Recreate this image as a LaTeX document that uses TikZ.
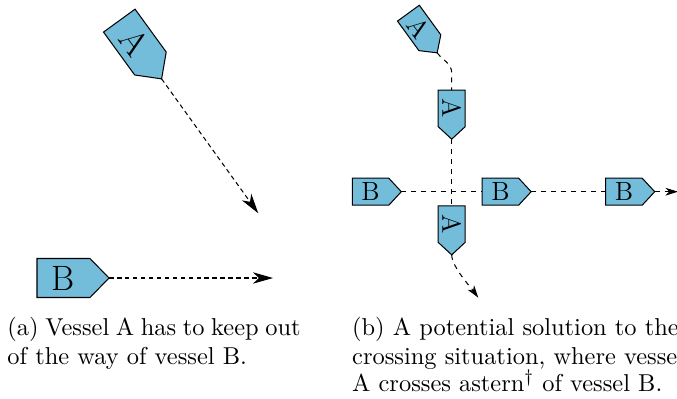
\documentclass[tikz,border=0pt]{standalone}
\usetikzlibrary{arrows.meta}
\definecolor{shipblue}{RGB}{115,189,219}
\tikzset{
  hull/.style={draw=black, fill=shipblue, line width=0.45pt, line join=miter},
  coursea/.style={draw=black, line width=0.45pt, dash pattern=on 2pt off 1.5pt},
  courseb/.style={draw=black, line width=0.45pt, dash pattern=on 2.2pt off 2.2pt},
  tipa/.style={-{Stealth[length=8.8pt,width=5pt,inset=2.6pt]}},
  tipb/.style={-{Stealth[length=5.5pt,width=3.4pt,inset=1.6pt]}},
  captext/.style={anchor=base west, inner sep=0pt, font=\fontsize{10.75}{12.3}\selectfont},
  pics/ship/.style args={#1/#2/#3/#4/#5}{code={
    \draw[hull] (-#2/2,-#3/2) -- (#2/2-#4,-#3/2) -- (#2/2,0) -- (#2/2-#4,#3/2) -- (-#2/2,#3/2) -- cycle;
    \node[inner sep=0pt, font=\fontsize{#5}{#5}\selectfont] (-label) at (-#4/2,0) {#1};
    \coordinate (-bow) at (#2/2,0);
    \coordinate (-stern) at (-#2/2,0);
  }}
}
\begin{document}
\begin{tikzpicture}[x=0.44pt,y=0.44pt]
\useasboundingbox (0,0) rectangle (677,398);
\clip (0,0) rectangle (677,398);
% ---------- (a) ----------
\pic[rotate=-54, transform shape] (Aa) at (140.45,348.25) {ship={A/72/39/19/15.5}};
\pic[transform shape] (Ba) at (73,120) {ship={B/72/39/19/15.5}};
\coordinate (AaEnd) at (258.3,184.7);
\coordinate (BaEnd) at (273,120);
\draw[coursea,tipa] (Aa-bow) -- (AaEnd);
\draw[coursea,tipa] (Ba-bow) -- (BaEnd);
\node[captext] (capa1) at (7,62.5) {\makebox[129pt][s]{(a) Vessel A has to keep out}};
\node[captext] (capa2) at (7,34) {of the way of vessel B.};
% ---------- (b) ----------
\pic[rotate=-54, transform shape] (A0) at (422.8,365) {ship={A/49/27/12.5/11.6}};
\pic[rotate=-90, transform shape] (A1) at (451.7,283.35) {ship={A/49/27/12.5/11.6}};
\pic[rotate=-90, transform shape] (A2) at (451.7,167.65) {ship={A/49/27/12.5/11.6}};
\pic[transform shape] (B1) at (376.8,206.3) {ship={B/49/27/12.5/11.6}};
\pic[transform shape] (B2) at (506.65,206.3) {ship={B/49/27/12.5/11.6}};
\pic[transform shape] (B3) at (630.2,206.3) {ship={B/49/27/12.5/11.6}};
\coordinate (turnA) at (451.7,325);
\coordinate (AbEnd) at (478.3,100.3);
\coordinate (BbEnd) at (678,206.3);
\draw[courseb] (A0-bow) to[out=-54,in=90] (turnA) -- (A1-stern);
\draw[courseb] (A1-bow) -- (A2-stern);
\draw[courseb,tipb] (A2-bow) to[out=-90,in=126,looseness=0.6] (AbEnd);
\draw[courseb] (B1-bow) -- (B2-stern);
\draw[courseb] (B2-bow) -- (B3-stern);
\draw[courseb,tipb] (B3-bow) -- (BbEnd);
\node[captext] (capb1) at (351.7,62.5) {(b) A potential solution to the};
\node[captext] (capb2) at (351.7,34) {crossing situation, where vessel};
\node[captext] (capb3) at (351.7,6.3) {A crosses astern$^\dagger$ of vessel B.};
\end{tikzpicture}
\end{document}
